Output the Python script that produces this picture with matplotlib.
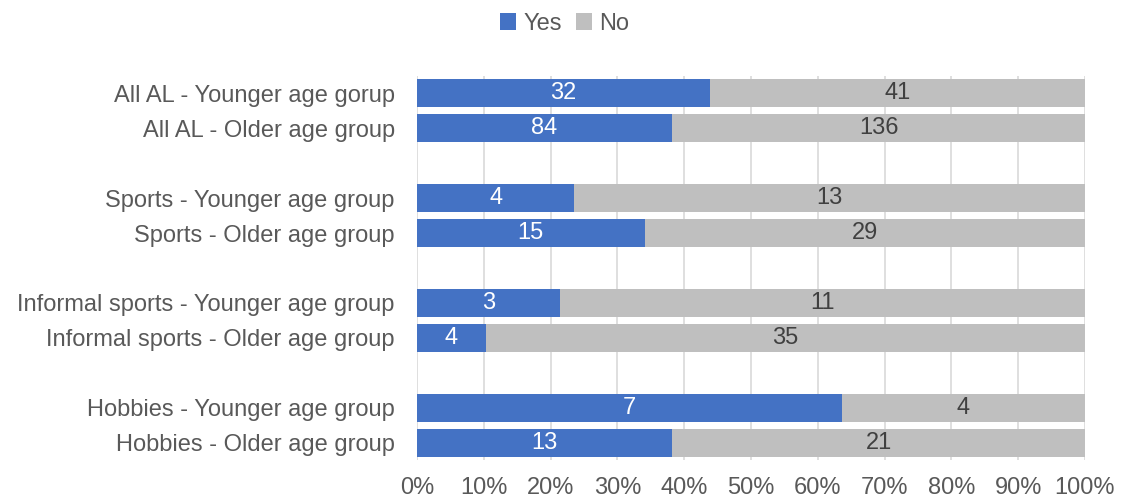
import matplotlib.pyplot as plt
from matplotlib.ticker import PercentFormatter

plt.rcParams['font.family'] = ['Liberation Sans', 'DejaVu Sans']

# Data (top to bottom)
labels = ["All AL - Younger age gorup", "All AL - Older age group",
          "Sports - Younger age group", "Sports - Older age group",
          "Informal sports - Younger age group", "Informal sports - Older age group",
          "Hobbies - Younger age group", "Hobbies - Older age group"]
yes = [32, 84, 4, 15, 3, 4, 7, 13]
no = [41, 136, 13, 29, 11, 35, 4, 21]

# slot positions with a blank row between each pair
slots = [0, 1, 3, 4, 6, 7, 9, 10]

yes_pct = [y / (y + n) * 100 for y, n in zip(yes, no)]
no_pct = [n / (y + n) * 100 for y, n in zip(yes, no)]

fig = plt.figure(figsize=(11.29, 5.01), dpi=100)
ax = fig.add_axes([417 / 1129, 1 - 460 / 501, 668 / 1129, 384 / 501])

b1 = ax.barh(slots, yes_pct, height=0.8, color="#4472C4", label="Yes", zorder=3)
b2 = ax.barh(slots, no_pct, left=yes_pct, height=0.8, color="#BFBFBF", label="No", zorder=3)

ax.bar_label(b1, labels=[str(v) for v in yes], label_type="center", color="white", fontsize=17)
ax.bar_label(b2, labels=[str(v) for v in no], label_type="center", color="#404040", fontsize=17)

ax.set_ylim(10.5, -0.5)
ax.set_xlim(0, 100)
ax.set_yticks(slots)
ax.set_yticklabels(labels, fontsize=17, color="#595959")
ax.set_xticks(range(0, 101, 10))
ax.xaxis.set_major_formatter(PercentFormatter(decimals=0))
ax.tick_params(axis="x", labelsize=17, labelcolor="#595959", length=0, pad=12)
ax.tick_params(axis="y", length=0, pad=16)
ax.grid(axis="x", color="#D9D9D9", linewidth=1.2, zorder=0)
for s in ax.spines.values():
    s.set_visible(False)

fig.legend(handles=[b1, b2], loc="center", bbox_to_anchor=(0.5, 1 - 24 / 501), ncol=2,
           frameon=False, fontsize=17, handlelength=0.7, handleheight=0.7,
           handletextpad=0.3, columnspacing=0.6, labelcolor="#595959")

fig.savefig("out.png", dpi=100)
